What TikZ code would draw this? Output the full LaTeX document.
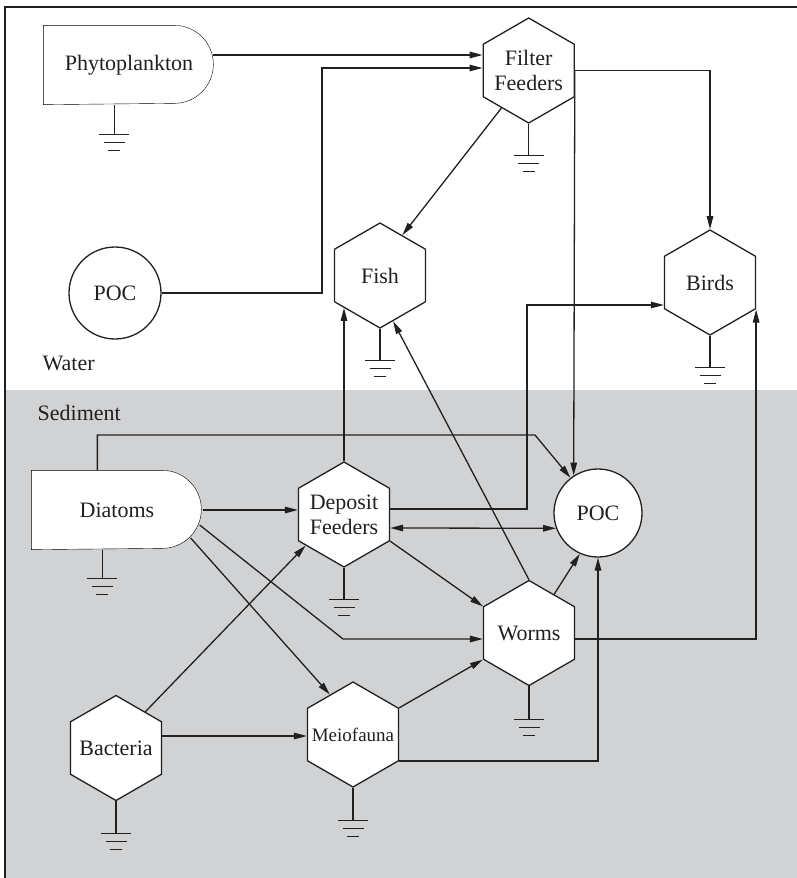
\documentclass[tikz,border=0pt]{standalone}
\usepackage{fontspec}
\setmainfont{Liberation Serif}
\usetikzlibrary{shapes.geometric,arrows.meta,backgrounds,calc}
\definecolor{ink}{HTML}{231F20}
\definecolor{sed}{HTML}{D1D2D4}
\newcommand{\lblfont}{\fontsize{22}{25}\selectfont}
\newcommand{\smlfont}{\fontsize{19}{22}\selectfont}
\newcommand{\zw}[1]{\makebox[0pt]{#1}}
\begin{document}
\begin{tikzpicture}[x=1pt,y=-1pt,line width=1.3pt,color=ink,
  hexa/.style={regular polygon,regular polygon sides=6,shape border rotate=30,
    minimum size=105pt,inner sep=0pt,draw,fill=white,align=center,font=\lblfont},
  pool/.style={circle,draw,fill=white,inner sep=0pt,font=\lblfont},
  src/.style={rectangle,minimum width=170pt,minimum height=78pt,inner sep=0pt,font=\lblfont},
  zone/.style={anchor=west,inner sep=0pt,font=\lblfont},
  arr/.style={-{Triangle[length=13pt,width=6.5pt]}},
  arrtwo/.style={{Triangle[length=13pt,width=6.5pt]}-{Triangle[length=13pt,width=6.5pt]}},
  ground/.pic={\draw (-15pt,0)--(15pt,0) (-10.5pt,-8pt)--(10.5pt,-8pt) (-6pt,-16pt)--(6pt,-16pt);}]
\useasboundingbox (0,0) rectangle (797,878);

% nodes
\node[src] (phy) at (129,65) {Phytoplankton};
\node[src] (dia) at (117,510) {Diatoms};
\node[pool,minimum size=92pt] (poc1) at (115,293) {POC};
\node[pool,minimum size=88pt] (poc2) at (598,513) {POC};
\node[hexa] (ff) at (528.7,70.5) {\zw{Filter}\\\zw{Feeders}};
\node[hexa] (fish) at (380,275.5) {\zw{Fish}};
\node[hexa] (birds) at (710,282.5) {\zw{Birds}};
\node[hexa] (df) at (344,514.5) {\zw{Deposit}\\\zw{Feeders}};
\node[hexa] (worms) at (529,633) {\zw{Worms}};
\node[hexa,font=\smlfont] (meio) at (353,734.5) {\zw{Meiofauna}};
\node[hexa] (bact) at (116,748) {\zw{Bacteria}};
\node[zone] (water) at (42,363) {Water};
\node[zone] (sediment) at (37,413) {Sediment};

\begin{scope}[on background layer]
  \fill[sed] (5,390) rectangle (797,878);
  \draw[fill=white] (phy.north west) -- ++(131pt,0) arc[start angle=90,end angle=-90,radius=39pt] -- (phy.south west) -- cycle;
  \draw[fill=white] (dia.north west) -- ++(131pt,0) arc[start angle=90,end angle=-90,radius=39pt] -- (dia.south west) -- cycle;
\end{scope}

% frame
\draw[line width=1.8pt] (797,7) -- (5,7) -- (5,878);

% helper coordinates
\coordinate (p1) at ([shift={(-1.3pt,10pt)}]phy.east);
\coordinate (p2) at ([yshift=12pt]bact.east);
\coordinate (k1) at (322,68);
\coordinate (k2) at (527,305);
\coordinate (k3) at (535,435);
\coordinate (k4) at (343,639);

% connectors
\draw[arr] (p1) -- (p1 -| ff.west);
\draw[arr] (poc1.east) -| (k1) -- (k1 -| ff.west);
\draw[arr] (ff.east) -| (birds.north);
\draw[arr] (ff.east) -- (poc2.123);
\draw[arr] (ff.234) -- (fish.61);
\draw[arr] (df.north) -- (df.north |- fish.222);
\draw[arr] ([yshift=5.5pt]df.east) -| (k2) -- (k2 -| birds.west);
\draw[arr] ([yshift=-6pt]worms.east) -| ([yshift=-27pt]birds.east);
\draw[arr] ([xshift=66pt]dia.north west) |- (k3) -- (poc2.128);
\draw[arr] (dia.east) -- (dia.east -| df.west);
\draw[arrtwo] ([yshift=-13.5pt]df.east) -- (poc2.200);
\draw[arr] ([shift={(-3pt,-15pt)}]dia.east) -- (k4) -- (k4 -| worms.west);
\draw[arr] ([shift={(-12pt,-28pt)}]dia.east) -- (meio.120);
\draw[arr] (bact.51) -- (df.219);
\draw[arr] (df.330) -- (worms.150);
\draw[arr] (worms.north) -- (fish.286);
\draw[arr] (worms.57) -- (poc2.246);
\draw[arr] (meio.330) -| (poc2.south);
\draw[arr] (meio.30) -- (worms.210);
\draw[arr] (p2) -- (p2 -| meio.west);

% grounds
\draw (phy.south west) ++(71pt,0) -- ++(0,-30pt) pic{ground};
\draw (dia.south west) ++(71pt,0) -- ++(0,-29pt) pic{ground};
\draw (ff.south) -- ++(0,-32pt) pic{ground};
\draw (fish.south) -- ++(0,-32pt) pic{ground};
\draw (birds.south) -- ++(0,-32pt) pic{ground};
\draw (df.south) -- ++(0,-32pt) pic{ground};
\draw (worms.south) -- ++(0,-33pt) pic{ground};
\draw (meio.south) -- ++(0,-33pt) pic{ground};
\draw (bact.south) -- ++(0,-32pt) pic{ground};
\end{tikzpicture}
\end{document}
